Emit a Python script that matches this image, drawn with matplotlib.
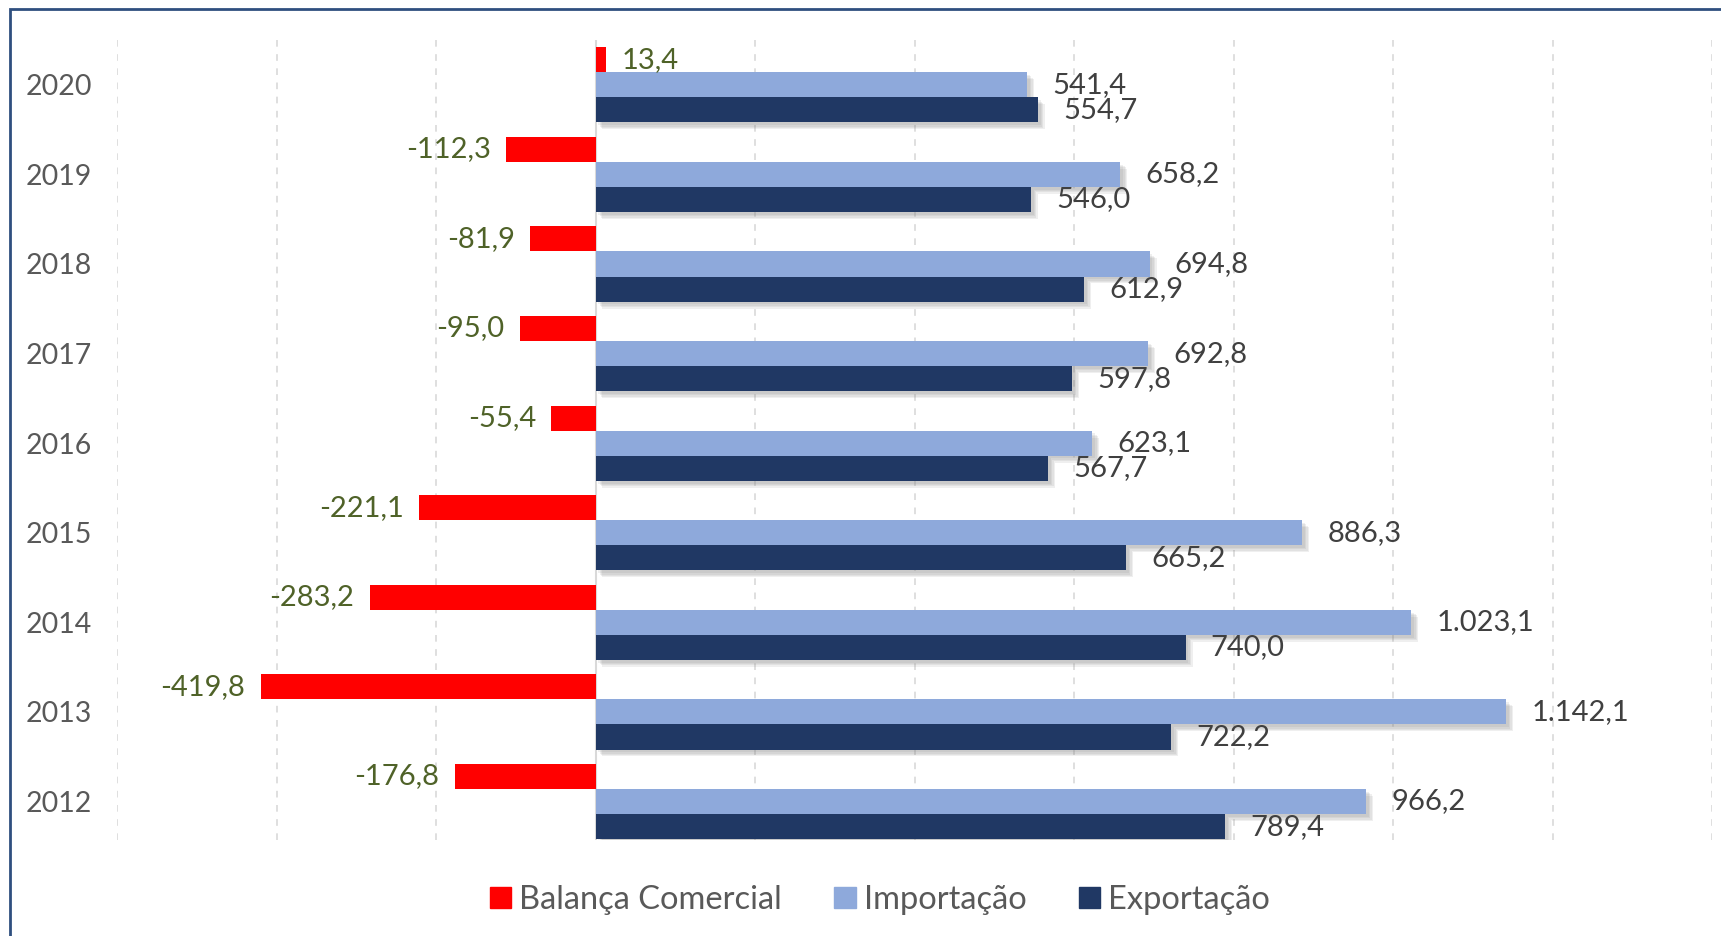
import matplotlib.pyplot as plt
import matplotlib.patheffects as pe
from matplotlib.patches import Patch, Rectangle
import numpy as np

plt.rcParams['font.family'] = ['Lato', 'DejaVu Sans']

anos = ['2012', '2013', '2014', '2015', '2016', '2017', '2018', '2019', '2020']
balanca = [-176.8, -419.8, -283.2, -221.1, -55.4, -95.0, -81.9, -112.3, 13.4]
importacao = [966.2, 1142.1, 1023.1, 886.3, 623.1, 692.8, 694.8, 658.2, 541.4]
exportacao = [789.4, 722.2, 740.0, 665.2, 567.7, 597.8, 612.9, 546.0, 554.7]

cor_bal = '#FF0000'
cor_imp = '#8EA9DB'
cor_exp = '#203864'


def fmt(v):
    s = '{:,.1f}'.format(v)
    return s.replace(',', 'X').replace('.', ',').replace('X', '.')


fig = plt.figure(figsize=(17.21, 9.36), dpi=100)
ax = fig.add_axes([117 / 1721, 1 - 840 / 936, (1712 - 117) / 1721, 800 / 936])

y = np.arange(len(anos))
h = 0.28
# sombra suave: varias camadas com pouca opacidade
sombra = [pe.SimplePatchShadow(offset=(d, -d), shadow_rgbFace='#808080', alpha=0.12)
          for d in (5, 4, 3, 2)] + [pe.Normal()]

b_bal = ax.barh(y + h, balanca, height=h, color=cor_bal, zorder=3)
b_imp = ax.barh(y, importacao, height=h, color=cor_imp, zorder=3)
b_exp = ax.barh(y - h, exportacao, height=h, color=cor_exp, zorder=3)
for bars in (b_imp, b_exp):
    for b in bars:
        b.set_path_effects(sombra)

fs = 21
for yi, v in zip(y, balanca):
    if v < 0:
        ax.annotate(fmt(v), (v, yi + h), xytext=(-11, 0), textcoords='offset points',
                    ha='right', va='center', color='#4F6228', fontsize=fs, zorder=4)
    else:
        ax.annotate(fmt(v), (v, yi + h), xytext=(11, 0), textcoords='offset points',
                    ha='left', va='center', color='#4F6228', fontsize=fs, zorder=4)
for yi, v in zip(y, importacao):
    ax.annotate(fmt(v), (v, yi), xytext=(18, 0), textcoords='offset points',
                ha='left', va='center', color='#404040', fontsize=fs, zorder=4)
for yi, v in zip(y, exportacao):
    ax.annotate(fmt(v), (v, yi - h), xytext=(18, 0), textcoords='offset points',
                ha='left', va='center', color='#404040', fontsize=fs, zorder=4)

ax.set_xlim(-600, 1400)
ax.set_ylim(-0.43, 8.50)
ax.set_xticks(np.arange(-600, 1401, 200))
ax.set_xticklabels([])
ax.tick_params(axis='x', length=0)
ax.set_yticks(y)
ax.set_yticklabels(anos, fontsize=20.5, color='#595959')
ax.tick_params(axis='y', length=0, pad=18)
ax.grid(axis='x', color='#D9D9D9', linestyle=(0, (4, 4.5)), linewidth=1.2, zorder=0)
ax.axvline(0, color='#D9D9D9', linewidth=1.5, zorder=1)
for s in ax.spines.values():
    s.set_visible(False)

handles = [Patch(color=cor_bal), Patch(color=cor_imp), Patch(color=cor_exp)]
fig.legend(handles, ['Balança Comercial', 'Importação', 'Exportação'],
           loc='center', bbox_to_anchor=(880 / 1721, 1 - 900 / 936), ncol=3,
           frameon=False, fontsize=23.5, labelcolor='#595959',
           handlelength=0.65, handleheight=0.65, handletextpad=0.25, columnspacing=1.6)

# moldura do grafico
fig.add_artist(Rectangle((10 / 1721, -0.1), 1.2, 1 - 9 / 936 + 0.1, transform=fig.transFigure,
                         fill=False, edgecolor='#2F4F7F', linewidth=2))

fig.savefig('out.png', dpi=100)
